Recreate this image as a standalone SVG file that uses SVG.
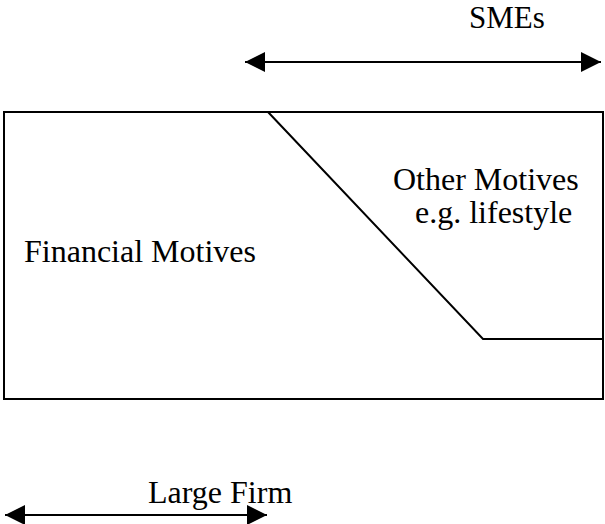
<svg xmlns="http://www.w3.org/2000/svg" width="605" height="524" viewBox="0 0 605 524">
<style>
text{font-family:"Liberation Serif","Times New Roman",serif;font-size:32px;fill:#000}
.ln{stroke:#000;stroke-width:2;fill:none}
</style>
<defs>
<marker id="ah" viewBox="0 0 20 20" refX="20" refY="10" markerWidth="20" markerHeight="20" markerUnits="userSpaceOnUse" orient="auto-start-reverse">
<path d="M0,0 L20,10 L0,20 Z" fill="#000"/>
</marker>
</defs>
<rect width="605" height="524" fill="#fff"/>
<g id="box">
<rect x="4" y="112" width="599" height="287" class="ln"/>
<path d="M268,112 L483,339 L603,339" class="ln" stroke-width="1.5"/>
</g>
<g id="financial"><text x="24" y="262">Financial Motives</text></g>
<g id="other"><text x="393" y="190">Other Motives</text><text x="415" y="223">e.g. lifestyle</text></g>
<g id="smes"><text x="469" y="28" style="font-size:31px">SMEs</text></g>
<g id="large"><text x="148" y="503">Large Firm</text></g>
<g id="connectors">
<line x1="245" y1="62" x2="601" y2="62" class="ln" marker-start="url(#ah)" marker-end="url(#ah)"/>
<line x1="5" y1="515" x2="267" y2="515" class="ln" marker-start="url(#ah)" marker-end="url(#ah)"/>
</g>
</svg>
